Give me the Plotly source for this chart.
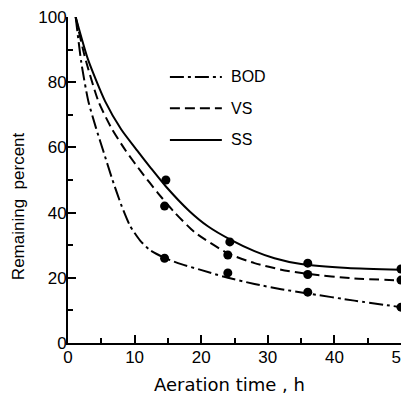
import plotly.graph_objects as go

# Curves
bod_curve_x = [1.15, 2, 3.05, 4.2, 5.3, 6.6, 8.06, 9.3, 10.8, 12.3, 14.6, 17, 19.8, 23.3, 28, 32, 36, 43, 50]
bod_curve_y = [100, 86, 74.2, 66, 58.9, 50.5, 42, 36, 31.5, 28.5, 26, 24.2, 22.5, 20.4, 18.1, 16.5, 15.2, 13, 11]
vs_curve_x = [1.15, 2.5, 4.55, 6.5, 8.7, 11, 13.5, 15.8, 19, 24, 28, 32, 36, 43, 50]
vs_curve_y = [100, 88, 74.2, 66, 58.9, 52.5, 46, 40.5, 34, 27.5, 24.5, 22.5, 21.2, 19.8, 19.2]
ss_curve_x = [1.15, 3, 5.56, 8, 10.4, 12.5, 14.7, 18.2, 21, 24.3, 28, 31, 35, 42, 50]
ss_curve_y = [100, 87, 74.2, 65.5, 59, 53.5, 48, 40.5, 35.8, 31.8, 28.2, 26, 24.2, 23, 22.5]

# Measured points
bod_x = [14.5, 24, 36, 50]
bod_y = [26, 21.5, 15.6, 11]
vs_x = [14.5, 24, 36, 50]
vs_y = [42, 27, 21, 19.3]
ss_x = [14.7, 24.3, 36, 50]
ss_y = [50, 31, 24.5, 22.7]

series_names = ["BOD", "VS", "SS"]
x_ticks = [0, 10, 20, 30, 40, 50]
y_ticks = [0, 20, 40, 60, 80, 100]

FONT = "Liberation Sans"
TFONT = "DejaVu Sans"
dashes = {"BOD": "14px,4px,3px,4px", "VS": "10px,5px", "SS": "solid"}

fig = go.Figure()
curves = {"BOD": (bod_curve_x, bod_curve_y), "VS": (vs_curve_x, vs_curve_y), "SS": (ss_curve_x, ss_curve_y)}
points = {"BOD": (bod_x, bod_y), "VS": (vs_x, vs_y), "SS": (ss_x, ss_y)}
for name in series_names:
    cx, cy = curves[name]
    fig.add_trace(go.Scatter(x=cx, y=cy, mode="lines",
                             line=dict(color="black", width=2, dash=dashes[name], shape="spline", smoothing=0.6),
                             showlegend=False, cliponaxis=False))
    px, py = points[name]
    fig.add_trace(go.Scatter(x=px, y=py, mode="markers", marker=dict(color="black", size=9),
                             showlegend=False, cliponaxis=False))

# Manual legend
leg_y = {"BOD": 81.6, "VS": 72, "SS": 62.3}
for name in series_names:
    fig.add_shape(type="line", x0=15.3, x1=23.1, y0=leg_y[name], y1=leg_y[name], xref="x", yref="y",
                  line=dict(color="black", width=2, dash=dashes[name]))
    fig.add_annotation(x=24.2, y=leg_y[name], xref="x", yref="y", text=name, showarrow=False,
                       xanchor="left", yanchor="middle", font=dict(family=FONT, size=16, color="black"))

# Axis titles as annotations
fig.add_annotation(x=0.486, y=-0.126, xref="paper", yref="paper", text="Aeration time , h", showarrow=False,
                   xanchor="center", yanchor="middle", font=dict(family=TFONT, size=18, color="black"))
fig.add_annotation(x=-0.150, y=0.42, xref="paper", yref="paper", text="Remaining  percent", showarrow=False,
                   textangle=-90, xanchor="center", yanchor="middle", font=dict(family=FONT, size=17, color="black"))

# page body has an 8px default margin: compensate
fig.update_layout(
    width=401, height=389,
    margin=dict(l=60, r=8, t=9, b=54),
    paper_bgcolor="white", plot_bgcolor="white",
    font=dict(family=FONT, size=17, color="black"),
)
fig.update_xaxes(range=[0, 50], tickvals=x_ticks, ticks="inside", ticklen=8, tickwidth=2, tickcolor="black",
                 showline=True, linecolor="black", linewidth=2, showgrid=False, zeroline=False,
                 automargin=False, tickfont=dict(size=17), ticklabeloverflow="allow", ticklabelstandoff=-2,
                 minor=dict(dtick=5, ticks="inside", ticklen=5, tickwidth=2, tickcolor="black", showgrid=False))
fig.update_yaxes(range=[0, 100], tickvals=y_ticks, ticks="inside", ticklen=8, tickwidth=2, tickcolor="black",
                 showline=True, linecolor="black", linewidth=2, showgrid=False, zeroline=False,
                 automargin=False, tickfont=dict(size=17), ticklabeloverflow="allow", ticklabelstandoff=-4,
                 minor=dict(dtick=10, ticks="inside", ticklen=5, tickwidth=2, tickcolor="black", showgrid=False))

fig.write_html("out.html")
